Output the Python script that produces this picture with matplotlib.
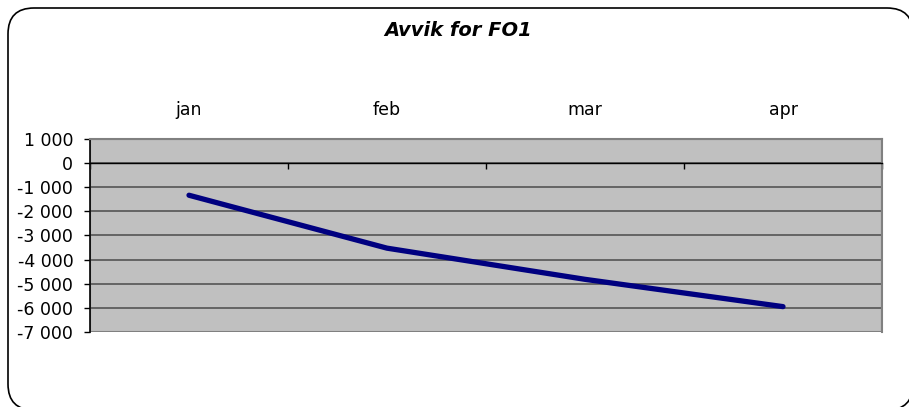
import matplotlib
matplotlib.use('Agg')
import matplotlib.pyplot as plt
from matplotlib.patches import FancyBboxPatch, Polygon, Rectangle
from matplotlib.transforms import IdentityTransform
from matplotlib.ticker import FuncFormatter

plt.rcParams['font.family'] = ['DejaVu Sans']

# data
months = ['jan', 'feb', 'mar', 'apr']
avvik = [-1340, -3530, -4820, -5950]
y_ticks = [-7000, -6000, -5000, -4000, -3000, -2000, -1000, 0, 1000]

fig = plt.figure(figsize=(9.09, 4.07), dpi=100)

# rounded chart border (display pixels, partly off the image on the right and bottom)
# flatten the curves so Agg does not mangle the off-canvas corners
rbox = FancyBboxPatch((8, -3), 905, 402, boxstyle='round,pad=0,rounding_size=26')
outline = rbox.get_path().to_polygons()[0]
border = Polygon(outline, closed=True, transform=IdentityTransform(), fill=False,
                 edgecolor='black', linewidth=1.2)
fig.add_artist(border)

ax = fig.add_axes([90 / 909, (407 - 332) / 407, 792 / 909, 193.3 / 407])
ax.set_facecolor('#c0c0c0')

xs = list(range(len(months)))
ax.plot(xs, avvik, color='#000080', linewidth=3.8, solid_capstyle='round', zorder=3)

ax.set_xlim(-0.5, len(months) - 0.5)
ax.set_ylim(y_ticks[0], y_ticks[-1])

ax.set_yticks(y_ticks)
ax.yaxis.set_major_formatter(FuncFormatter(lambda v, p: '{:,}'.format(int(v)).replace(',', ' ')))
ax.yaxis.grid(True, color='#555555', linewidth=1.2)
ax.set_axisbelow(True)
ax.tick_params(axis='y', direction='out', length=4, width=1, colors='black', labelsize=12.5, pad=8)

# category axis crosses at zero, labels sit above the plot
ax.spines['bottom'].set_position(('data', 0))
ax.spines['bottom'].set_color('black')
ax.spines['bottom'].set_linewidth(1)
ax.set_xticks([x + 0.5 for x in range(-1, len(months))])
ax.set_xticklabels([])
ax.tick_params(axis='x', direction='out', length=4, width=1, colors='black')

top = ax.secondary_xaxis('top')
top.set_xticks(xs)
top.set_xticklabels(months)
top.tick_params(length=0, labelsize=12.5, pad=14)
top.spines['top'].set_visible(False)

for s in ['top', 'right']:
    ax.spines[s].set_color('#808080')
    ax.spines[s].set_linewidth(1.5)
ax.spines['left'].set_color('black')
ax.spines['left'].set_linewidth(1.2)
frame = Rectangle((0, 0), 1, 1, transform=ax.transAxes, fill=False,
                  edgecolor='#808080', linewidth=1.5, zorder=1)
ax.add_patch(frame)

fig.text(458 / 909, 1 - 30 / 407, 'Avvik for FO1', ha='center', va='center',
         fontsize=14, fontweight='bold', fontstyle='italic')

fig.savefig('out.png', dpi=100)
